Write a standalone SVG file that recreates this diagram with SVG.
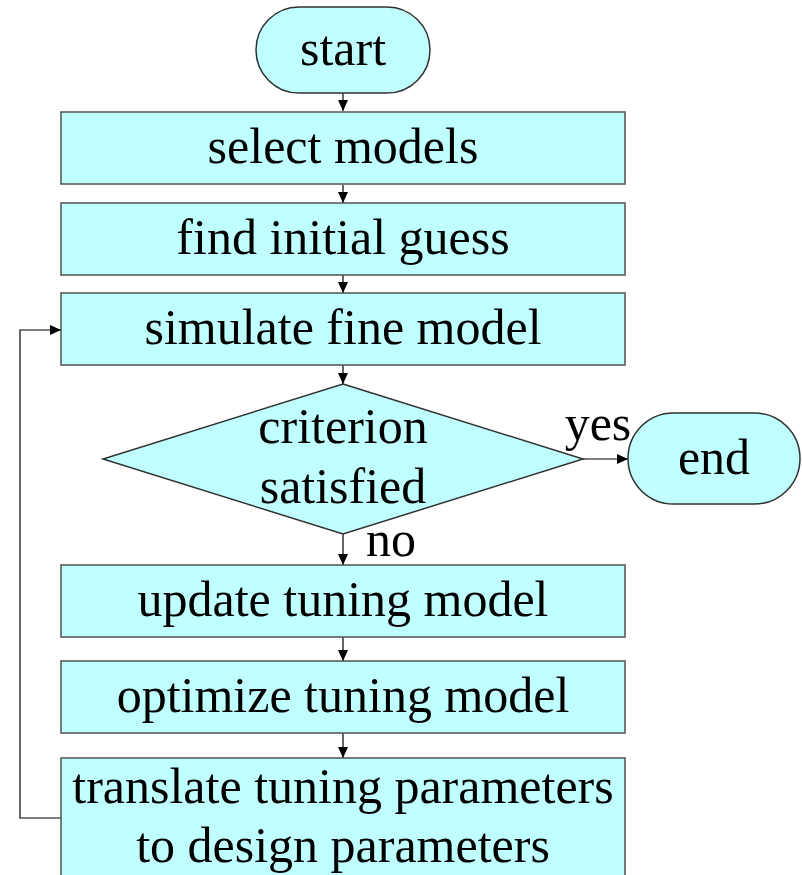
<svg xmlns="http://www.w3.org/2000/svg" width="802" height="875" viewBox="0 0 802 875">
  <style>
    .box { fill: #c0ffff; stroke: #505050; stroke-width: 1.5; }
    .term { fill: #c0ffff; stroke: #303030; stroke-width: 1.5; }
    .lbl { font-family: "Liberation Serif", "Times New Roman", serif; font-size: 50px; fill: #000; text-anchor: middle; }
    .edge { fill: none; stroke: #000; stroke-width: 1.2; }
  </style>
  <defs>
    <marker id="arrow" viewBox="0 0 11 10" refX="11" refY="5" markerWidth="11" markerHeight="10" markerUnits="userSpaceOnUse" orient="auto">
      <path d="M0,0 L11,5 L0,10 Z" fill="#000"/>
    </marker>
  </defs>

  <rect width="802" height="875" fill="#fff"/>

  <g id="connectors">
    <line class="edge" x1="343" y1="93" x2="343" y2="111" marker-end="url(#arrow)"/>
    <line class="edge" x1="343" y1="185" x2="343" y2="203" marker-end="url(#arrow)"/>
    <line class="edge" x1="343" y1="275" x2="343" y2="293" marker-end="url(#arrow)"/>
    <line class="edge" x1="343" y1="365" x2="343" y2="384" marker-end="url(#arrow)"/>
    <line class="edge" x1="583" y1="459" x2="628" y2="459" marker-end="url(#arrow)"/>
    <line class="edge" x1="343" y1="534" x2="343" y2="565" marker-end="url(#arrow)"/>
    <line class="edge" x1="343" y1="637" x2="343" y2="661" marker-end="url(#arrow)"/>
    <line class="edge" x1="343" y1="733" x2="343" y2="758" marker-end="url(#arrow)"/>
    <polyline class="edge" points="61,818 20,818 20,330 61,330" marker-end="url(#arrow)"/>
    <text class="lbl" x="598" y="440">yes</text>
    <text class="lbl" x="391" y="556">no</text>
  </g>

  <g id="start">
    <rect class="term" x="256" y="7" width="174" height="86" rx="43" ry="43"/>
    <text class="lbl" x="343" y="65">start</text>
  </g>

  <g id="select-models">
    <rect class="box" x="61" y="112" width="564" height="72"/>
    <text class="lbl" x="343" y="163">select models</text>
  </g>

  <g id="find-initial-guess">
    <rect class="box" x="61" y="203" width="564" height="72"/>
    <text class="lbl" x="343" y="254">find initial guess</text>
  </g>

  <g id="simulate-fine-model">
    <rect class="box" x="61" y="293" width="564" height="72"/>
    <text class="lbl" x="343" y="344">simulate fine model</text>
  </g>

  <g id="criterion">
    <polygon class="term" points="343,384 583,459 343,534 103,459"/>
    <text class="lbl" x="343" y="443">criterion</text>
    <text class="lbl" x="343" y="503">satisfied</text>
  </g>

  <g id="end">
    <rect class="term" x="628" y="413" width="172" height="91" rx="45.5" ry="45.5"/>
    <text class="lbl" x="714" y="474">end</text>
  </g>

  <g id="update-tuning-model">
    <rect class="box" x="61" y="565" width="564" height="72"/>
    <text class="lbl" x="343" y="616">update tuning model</text>
  </g>

  <g id="optimize-tuning-model">
    <rect class="box" x="61" y="661" width="564" height="72"/>
    <text class="lbl" x="343" y="712">optimize tuning model</text>
  </g>

  <g id="translate-parameters">
    <rect class="box" x="61" y="758" width="564" height="130"/>
    <text class="lbl" x="343" y="803">translate tuning parameters</text>
    <text class="lbl" x="343" y="862">to design parameters</text>
  </g>
</svg>
